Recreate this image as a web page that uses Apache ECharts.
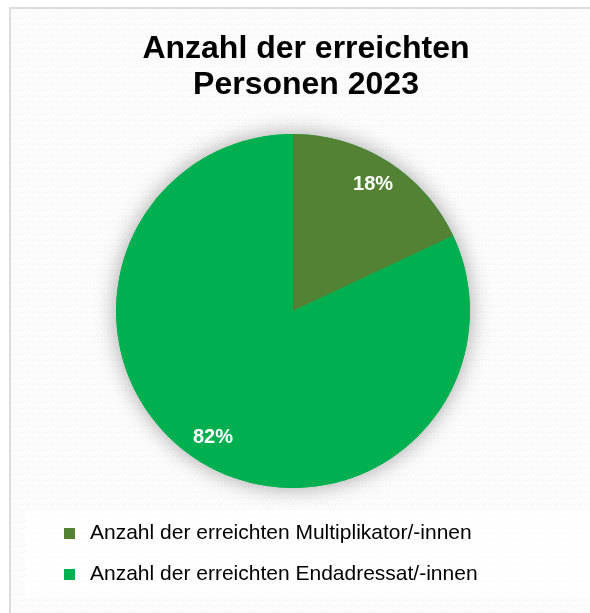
<!DOCTYPE html>
<html>
<head>
<meta charset="utf-8">
<script src="https://cdn.jsdelivr.net/npm/echarts@6/dist/echarts.min.js"></script>
<style>
html,body{margin:0;padding:0;background:#fff;}
#box{width:590px;height:613px;}
</style>
</head>
<body>
<div id="box"></div>
<script>
var titleText = 'Anzahl der erreichten\nPersonen 2023';
var nameList = ['Anzahl der erreichten Multiplikator/-innen', 'Anzahl der erreichten Endadressat/-innen'];
var valueList = [18, 82];
var colorList = ['#548235', '#00b050'];

// gestreifter Hintergrund
var pat = document.createElement('canvas');
pat.width = 6; pat.height = 6;
var ctx = pat.getContext('2d');
ctx.fillStyle = '#eeeeee';
ctx.fillRect(0, 0, 6, 6);
ctx.strokeStyle = '#ffffff';
ctx.lineWidth = 1.8;
for (var k = -6; k <= 12; k += 3) {
	ctx.beginPath();
	ctx.moveTo(k, 0);
	ctx.lineTo(k + 6, 6);
	ctx.stroke();
}

var pieData = [];
var labelData = [];
var total = 0;
for (var i = 0; i < valueList.length; i++) {
	pieData.push({ value: valueList[i], name: nameList[i], itemStyle: { color: colorList[i] } });
	labelData.push({ value: valueList[i], name: nameList[i] });
	total += valueList[i];
}

var dom = document.getElementById('box');
var myChart = echarts.init(dom);
var option = {
	backgroundColor: '#ffffff',
	animation: false,
	graphic: [{
		type: 'rect',
		z: -10,
		silent: true,
		shape: { x: 10, y: 8, width: 600, height: 620 },
		style: { fill: { image: pat, repeat: 'repeat' }, stroke: '#dcdcdc', lineWidth: 2 }
	}],
	title: {
		text: titleText,
		left: 301,
		top: 26,
		textAlign: 'center',
		textStyle: {
			fontFamily: 'Liberation Sans',
			fontSize: 32,
			fontWeight: 'bold',
			color: '#000',
			lineHeight: 36
		}
	},
	legend: {
		orient: 'vertical',
		left: 25,
		top: 510,
		data: nameList,
		icon: 'rect',
		itemWidth: 11,
		itemHeight: 11,
		itemGap: 20,
		padding: [13, 120, 12, 39],
		backgroundColor: 'rgba(255,255,255,0.7)',
		textStyle: {
			fontFamily: 'Liberation Sans',
			fontSize: 21,
			color: '#000',
			padding: [0, 0, 0, 10]
		}
	},
	series: [
		{
			// Schatten hinter dem Kreis
			type: 'pie',
			z: 1,
			center: [293, 311],
			radius: [0, 177],
			silent: true,
			label: { show: false },
			labelLine: { show: false },
			itemStyle: {
				color: '#00b050',
				shadowBlur: 22,
				shadowColor: 'rgba(0,0,0,0.35)'
			},
			data: [{ value: total, name: '' }]
		},
		{
			type: 'pie',
			z: 2,
			center: [293, 311],
			radius: [0, 177],
			startAngle: 90,
			clockwise: true,
			label: { show: false },
			labelLine: { show: false },
			itemStyle: { borderWidth: 0 },
			data: pieData
		},
		{
			type: 'pie',
			z: 3,
			center: [293, 311],
			radius: [116, 177],
			startAngle: 90,
			clockwise: true,
			silent: true,
			itemStyle: { color: 'transparent' },
			label: {
				show: true,
				position: 'inside',
				formatter: '{d}%',
				color: '#fff',
				fontFamily: 'Liberation Sans',
				fontSize: 20,
				fontWeight: 'bold'
			},
			labelLine: { show: false },
			data: labelData
		}
	]
};
myChart.setOption(option, true);
</script>
</body>
</html>
